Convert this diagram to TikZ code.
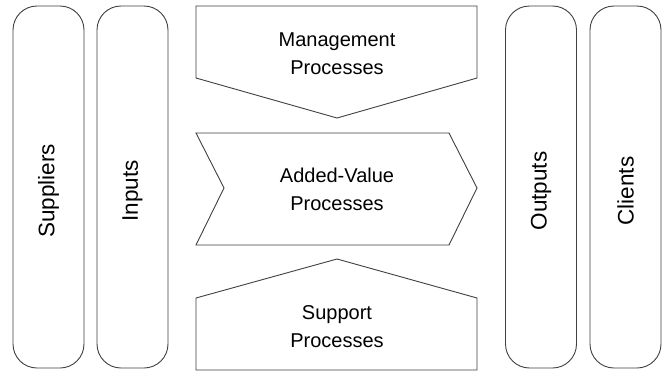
\documentclass[tikz,border=0pt]{standalone}
\usepackage{fontspec}
\setmainfont{Liberation Sans}
\begin{document}
\begin{tikzpicture}[x=1pt,y=-1pt,
  line/.style={draw=black!75,line width=0.9pt,line join=miter},
  pill/.style={line,rounded corners=24pt,minimum width=71pt,minimum height=362pt,inner sep=0pt},
  lbl/.style={align=center,font=\fontsize{20}{28}\selectfont,inner sep=0pt},
  vlbl/.style={rotate=90,font=\fontsize{22.5}{27}\selectfont,inner sep=0pt}]
\useasboundingbox (0,0) rectangle (665,373);
\fill[white] (0,0) rectangle (665,373);
% pills
\node[pill] (sup) at (48.5,187) {};
\node[vlbl] (supt) at ([yshift=-4pt]sup.center) {Suppliers};
\node[pill] (inp) at (132.5,187) {};
\node[vlbl] (inpt) at ([yshift=-4pt]inp.center) {Inputs};
\node[pill] (out) at (541,187) {};
\node[vlbl] (outt) at ([yshift=-4pt]out.center) {Outputs};
\node[pill] (cli) at (625.5,187) {};
\node[vlbl] (clit) at ([yshift=-4pt]cli.center) {Clients};
% management
\draw[line] (196,6) -- (477,6) -- (477,78) -- (337,118) -- (196,78) -- cycle;
\node[lbl] (mgmt) at (337,54) {Management\\Processes};
% added value
\draw[line] (196,133) -- (449,133) -- (477,188) -- (449,245) -- (196,245) -- (224,188) -- cycle;
\node[lbl] (av) at (337,189) {Added-Value\\Processes};
% support
\draw[line] (196,370) -- (196,298) -- (337,259) -- (477,298) -- (477,370) -- cycle;
\node[lbl] (supp) at (337,327) {Support\\Processes};
\end{tikzpicture}
\end{document}
